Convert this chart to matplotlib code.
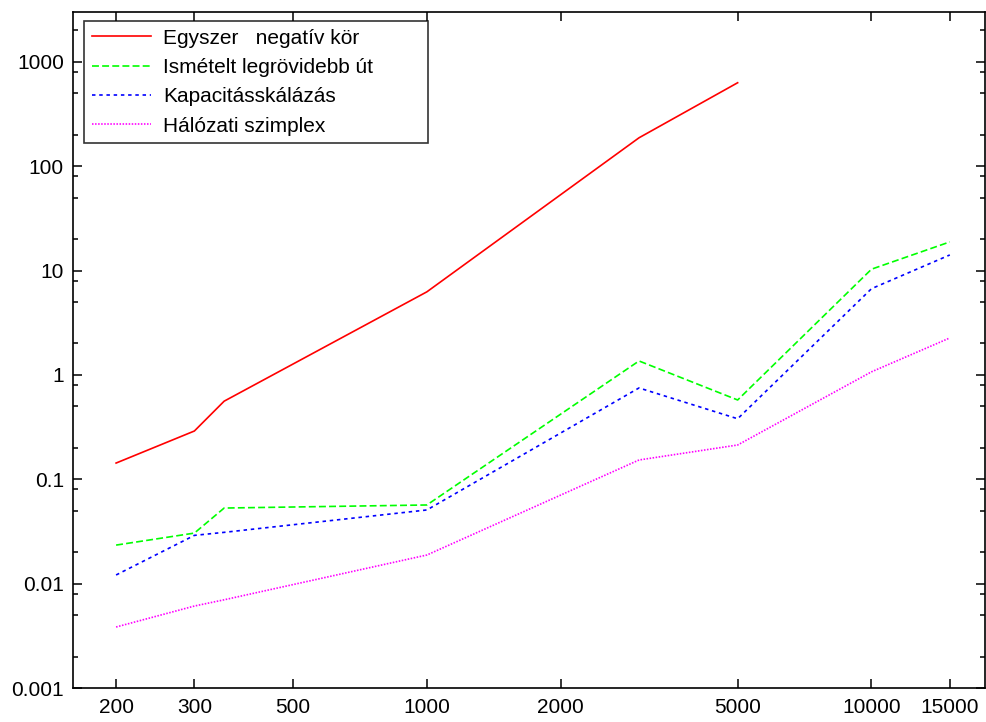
import matplotlib
matplotlib.use("Agg")
import matplotlib.pyplot as plt
from matplotlib.ticker import FixedLocator, NullFormatter

plt.rcParams['font.family'] = ['Liberation Sans', 'DejaVu Sans']
plt.rcParams['lines.scale_dashes'] = False

# problem sizes
sizes = [200, 300, 350, 1000, 3000, 5000, 10000, 15000]

# running times
egyszer = [0.143, 0.29, 0.56, 6.25, 187, 630]
ismetelt = [0.0234, 0.0305, 0.053, 0.0567, 1.36, 0.575, 10.3, 18.8]
kapacitas = [0.0121, 0.029, 0.031, 0.0508, 0.75, 0.38, 6.7, 14.1]
halozati = [0.00384, 0.0061, 0.0070, 0.0188, 0.153, 0.213, 1.07, 2.26]

labels = ["Egyszer   negatív kör", "Ismételt legrövidebb út",
          "Kapacitásskálázás", "Hálózati szimplex"]

xticks = [200, 300, 500, 1000, 2000, 5000, 10000, 15000]
yticks = [0.001, 0.01, 0.1, 1, 10, 100, 1000]
ytick_labels = ["0.001", "0.01", "0.1", "1", "10", "100", "1000"]
yminor = [m * 10.0 ** e for e in range(-3, 4) for m in (2, 5, 8)]

fig = plt.figure(figsize=(9.87, 7.22), dpi=100)
ax = fig.add_axes([73 / 987, 34 / 722, 912 / 987, 676 / 722])

lw = 1.2
ax.plot(sizes[:len(egyszer)], egyszer, color='#ff0000', lw=lw, label=labels[0])
ax.plot(sizes, ismetelt, color='#00ff00', lw=lw, dashes=(5, 2.3), label=labels[1])
ax.plot(sizes, kapacitas, color='#0000ff', lw=lw, dashes=(2.5, 2.7), label=labels[2])
ax.plot(sizes, halozati, color='#ff00ff', lw=lw, dashes=(1.1, 1.1), label=labels[3])

ax.set_xscale('log')
ax.set_yscale('log')
ax.set_xlim(160, 18000)
ax.set_ylim(0.001, 3000)

ax.xaxis.set_major_locator(FixedLocator(xticks))
ax.xaxis.set_minor_locator(FixedLocator([]))
ax.set_xticklabels([str(v) for v in xticks])
ax.xaxis.set_minor_formatter(NullFormatter())

ax.yaxis.set_major_locator(FixedLocator(yticks))
ax.set_yticklabels(ytick_labels)
ax.yaxis.set_minor_locator(FixedLocator(yminor))
ax.yaxis.set_minor_formatter(NullFormatter())

ax.tick_params(which='both', direction='in', top=True, right=True, width=1.1, colors='black')
ax.tick_params(which='major', length=6.5)
ax.tick_params(which='minor', length=3.5)
ax.tick_params(axis='y', labelsize=15, pad=6.5)
ax.tick_params(axis='x', labelsize=15, pad=7)

for sp in ax.spines.values():
    sp.set_linewidth(1.2)

# legend box spans x 84..427, top at y 21 (pixels)
leg = ax.legend(loc='upper left', mode='expand',
                bbox_to_anchor=(11 / 912, 667 / 676, 344 / 912, 0.0),
                borderaxespad=0, fontsize=15, frameon=True, fancybox=False,
                edgecolor='black', handlelength=2.85, handletextpad=0.6,
                labelspacing=0.5, borderpad=0.36)
leg.get_frame().set_linewidth(1.2)

fig.savefig("out.png", dpi=100)
